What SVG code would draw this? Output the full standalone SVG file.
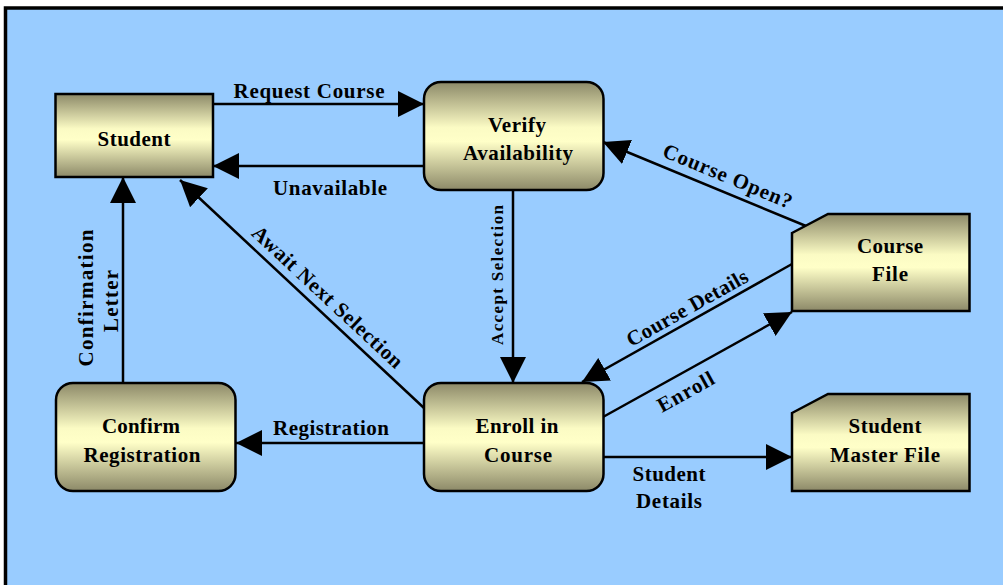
<svg xmlns="http://www.w3.org/2000/svg" width="1003" height="585" viewBox="0 0 1003 585">
<defs>
<linearGradient id="g" x1="0" y1="0" x2="0" y2="1">
<stop offset="0" stop-color="#8c8968"/>
<stop offset="0.42" stop-color="#fbfbc4"/>
<stop offset="0.55" stop-color="#ffffc8"/>
<stop offset="1" stop-color="#8c8968"/>
</linearGradient>
<marker id="ah" markerUnits="userSpaceOnUse" markerWidth="26" markerHeight="26" refX="26" refY="13" orient="auto" viewBox="0 0 26 26">
<path d="M0,0 L26,13 L0,26 z" fill="#000"/>
</marker>
<style>
.n{fill:url(#g);stroke:#000;stroke-width:2.5}
.t{font-family:"Liberation Serif","Times New Roman",serif;font-weight:bold;font-size:21px;fill:#000;text-anchor:middle}
.c{fill:none;stroke:#000;stroke-width:2.5;marker-end:url(#ah)}
</style>
</defs>
<rect x="0" y="0" width="1003" height="585" fill="#fff"/>
<rect x="5.5" y="8" width="1020" height="600" fill="#99ccff" stroke="#000" stroke-width="3.5"/>

<g id="connectors">
<path class="c" d="M213,104 L424,104"/>
<path class="c" d="M424,166 L213,166"/>
<path class="c" d="M513,190 L513,383"/>
<path class="c" d="M806,226 L603,142"/>
<path class="c" d="M792,264 L582,382"/>
<path class="c" d="M603,417 L792,312"/>
<path class="c" d="M603,457 L792,457"/>
<path class="c" d="M424,443 L236,443"/>
<path class="c" d="M123,383 L123,177"/>
<path class="c" d="M424,408 L180,180"/>
<text class="t" x="309" y="98" textLength="151" lengthAdjust="spacing">Request Course</text>
<text class="t" x="330" y="195" textLength="114" lengthAdjust="spacing">Unavailable</text>
<text class="t" x="331" y="435" textLength="116" lengthAdjust="spacing">Registration</text>
<text class="t" x="669" y="481" textLength="73" lengthAdjust="spacing">Student</text>
<text class="t" x="669" y="508" textLength="66" lengthAdjust="spacing">Details</text>
<text class="t" style="font-size:17px" transform="translate(503,275) rotate(-90)" textLength="140" lengthAdjust="spacing">Accept Selection</text>
<text class="t" transform="translate(93,298) rotate(-90)" textLength="137" lengthAdjust="spacing">Confirmation</text>
<text class="t" transform="translate(118,301) rotate(-90)" textLength="62" lengthAdjust="spacing">Letter</text>
<text class="t" transform="translate(323,302) rotate(43)" textLength="198" lengthAdjust="spacing">Await Next Selection</text>
<text class="t" transform="translate(725,182.5) rotate(22.6)" textLength="138" lengthAdjust="spacing">Course Open?</text>
<text class="t" transform="translate(690.6,314) rotate(-29.3)" textLength="136" lengthAdjust="spacing">Course Details</text>
<text class="t" transform="translate(689,398) rotate(-29)" textLength="62" lengthAdjust="spacing">Enroll</text>
</g>

<g id="student">
<rect class="n" x="55.5" y="94" width="157.5" height="83"/>
<text class="t" x="134" y="146" textLength="73" lengthAdjust="spacing">Student</text>
</g>
<g id="verify">
<rect class="n" x="424" y="82" width="179.5" height="108" rx="17"/>
<text class="t" x="517" y="132" textLength="58" lengthAdjust="spacing">Verify</text>
<text class="t" x="518" y="160" textLength="110" lengthAdjust="spacing">Availability</text>
</g>
<g id="coursefile">
<path class="n" d="M792,233 L828,214 L969.5,214 L969.5,311 L792,311 z"/>
<text class="t" x="890" y="253" textLength="66" lengthAdjust="spacing">Course</text>
<text class="t" x="890" y="281" textLength="36" lengthAdjust="spacing">File</text>
</g>
<g id="confirm">
<rect class="n" x="56" y="383" width="179.5" height="108" rx="17"/>
<text class="t" x="141" y="433" textLength="78" lengthAdjust="spacing">Confirm</text>
<text class="t" x="142" y="462" textLength="117" lengthAdjust="spacing">Registration</text>
</g>
<g id="enroll">
<rect class="n" x="424" y="383" width="179.5" height="108" rx="17"/>
<text class="t" x="517" y="433" textLength="83" lengthAdjust="spacing">Enroll in</text>
<text class="t" x="518" y="462" textLength="68" lengthAdjust="spacing">Course</text>
</g>
<g id="studentmaster">
<path class="n" d="M792,413 L828,394 L969.5,394 L969.5,491 L792,491 z"/>
<text class="t" x="885" y="433" textLength="73" lengthAdjust="spacing">Student</text>
<text class="t" x="885" y="462" textLength="110" lengthAdjust="spacing">Master File</text>
</g>
</svg>
